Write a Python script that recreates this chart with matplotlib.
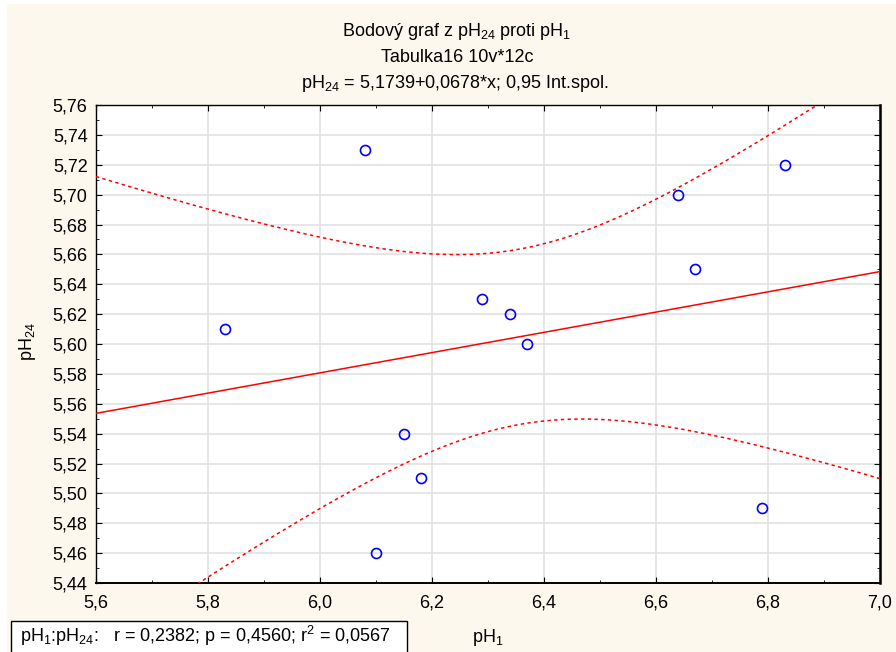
import numpy as np
import matplotlib.pyplot as plt
from matplotlib.patches import Rectangle
from matplotlib.ticker import MultipleLocator, FuncFormatter

plt.rcParams['font.family'] = ['Liberation Sans', 'DejaVu Sans']
plt.rcParams['mathtext.fontset'] = 'custom'
plt.rcParams['mathtext.rm'] = 'Liberation Sans'
plt.rcParams['mathtext.it'] = 'Liberation Sans:italic'

# pH after 1 h and after 24 h (12 cases)
ph1 = [5.83, 6.08, 6.10, 6.15, 6.18, 6.29, 6.34, 6.37, 6.64, 6.67, 6.79, 6.83]
ph24 = [5.61, 5.73, 5.46, 5.54, 5.51, 5.63, 5.62, 5.60, 5.70, 5.65, 5.49, 5.72]

# fitted line pH24 = a + b*x
intercept = 5.1739
slope = 0.0678
t_crit = 2.228  # t(0.975, df=10)

x = np.array(ph1)
y = np.array(ph24)
n = len(x)

bg = '#fdf8ee'
fig = plt.figure(figsize=(8.96, 6.52), dpi=100, facecolor=bg)

# thin white margin along the left and top edges
fig.patches.append(Rectangle((0, 0), 7 / 896, 1, transform=fig.transFigure,
                             facecolor='white', edgecolor='none', zorder=-5))
fig.patches.append(Rectangle((0, 1 - 4 / 652), 1, 4 / 652, transform=fig.transFigure,
                             facecolor='white', edgecolor='none', zorder=-5))

ax = fig.add_axes([0.1071, 0.1058, 0.875, 0.7331])
ax.set_facecolor('white')

# regression line and 95% confidence band for the mean
xs = np.linspace(5.6, 7.0, 300)
yhat = intercept + slope * xs
resid = y - (intercept + slope * x)
s = np.sqrt(np.sum(resid ** 2) / (n - 2))
sxx = np.sum((x - x.mean()) ** 2)
half = t_crit * s * np.sqrt(1.0 / n + (xs - x.mean()) ** 2 / sxx)

ax.plot(xs, yhat, color='#ff0000', lw=1.1, zorder=3)
ax.plot(xs, yhat + half, color='#ff0000', lw=1.1, ls=(0, (2.2, 2.2)), zorder=3)
ax.plot(xs, yhat - half, color='#ff0000', lw=1.1, ls=(0, (2.2, 2.2)), zorder=3)

ax.plot(x, y, ls='none', marker='o', mfc='none', mec='#0000ff', ms=7.2, mew=1.2, zorder=4)

ax.set_xlim(5.6, 7.0)
ax.set_ylim(5.44, 5.76)
ax.xaxis.set_major_locator(MultipleLocator(0.2))
ax.xaxis.set_minor_locator(MultipleLocator(0.1))
ax.yaxis.set_major_locator(MultipleLocator(0.02))
ax.yaxis.set_minor_locator(MultipleLocator(0.01))
ax.xaxis.set_major_formatter(FuncFormatter(lambda v, p: f'{v:.1f}'.replace('.', ',')))
ax.yaxis.set_major_formatter(FuncFormatter(lambda v, p: f'{v:.2f}'.replace('.', ',')))

ax.grid(True, which='major', color='#e2e2e2', lw=1.2, zorder=0)
ax.set_axisbelow(True)
ax.tick_params(which='both', direction='in', top=True, right=True, colors='black', labelsize=13)
ax.tick_params(which='major', length=4)
ax.tick_params(which='minor', length=2.5)
ax.tick_params(axis='x', pad=8)
ax.tick_params(axis='y', pad=6)
for side in ax.spines.values():
    side.set_linewidth(1.0)
ax.spines['right'].set_linewidth(1.8)
ax.spines['bottom'].set_linewidth(1.4)

# titles
fig.text(0.510, 1 - 36 / 652, r'Bodový graf z pH$_{24}$ proti pH$_{1}$', ha='center', va='baseline', fontsize=13)
fig.text(0.510, 1 - 62 / 652, 'Tabulka16 10v*12c', ha='center', va='baseline', fontsize=13)
fig.text(0.508, 1 - 88 / 652, r'pH$_{24}$ = 5,1739+0,0678*x; 0,95 Int.spol.', ha='center', va='baseline', fontsize=13)

# axis titles
fig.text(0.544, 1 - 642 / 652, r'pH$_{1}$', ha='center', va='baseline', fontsize=13)
fig.text(28 / 896, 1 - 342 / 652, r'pH$_{24}$', ha='center', va='center', rotation=90, fontsize=13)

# correlation summary box
fig.patches.append(Rectangle((11 / 896, -0.01), 396 / 896, 31 / 652 + 0.01,
                             transform=fig.transFigure, facecolor='white',
                             edgecolor='black', lw=1.0))
fig.text(20 / 896, 1 - 642 / 652,
         r'pH$_{1}$:pH$_{24}$:   r = 0,2382; p = 0,4560; r$^{2}$ = 0,0567',
         ha='left', va='baseline', fontsize=13)

fig.savefig('out.png', dpi=100, facecolor=bg)
